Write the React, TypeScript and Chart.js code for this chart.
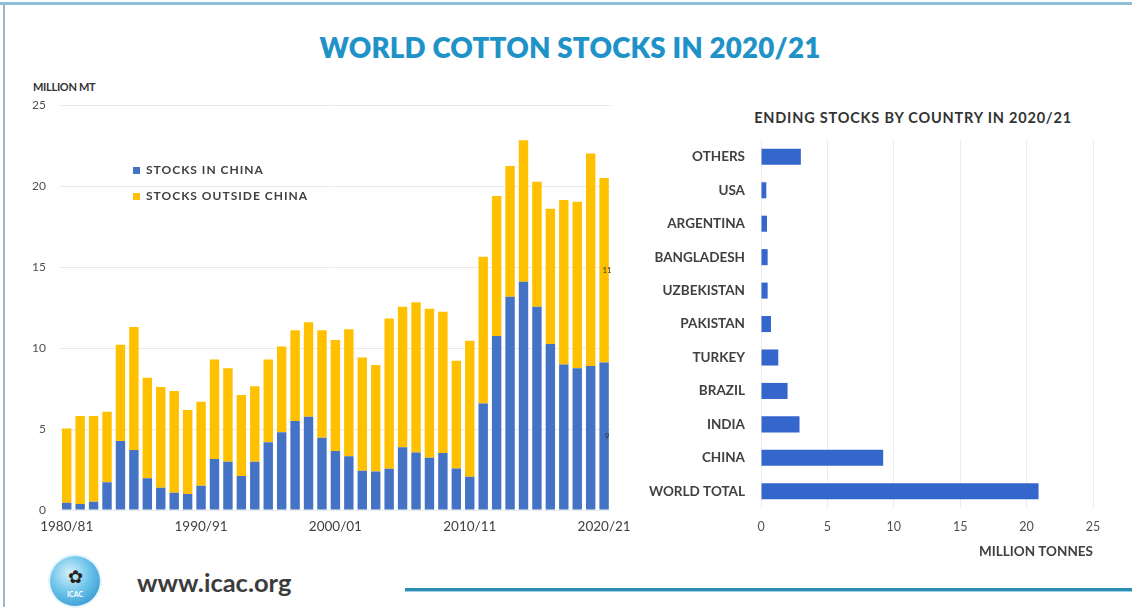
import React, { useEffect, useRef } from "react";
import { Chart, registerables } from "chart.js";

Chart.register(...registerables);

const seasons = [
  "1980/81", "1981/82", "1982/83", "1983/84", "1984/85", "1985/86", "1986/87", "1987/88", "1988/89", "1989/90",
  "1990/91", "1991/92", "1992/93", "1993/94", "1994/95", "1995/96", "1996/97", "1997/98", "1998/99", "1999/00",
  "2000/01", "2001/02", "2002/03", "2003/04", "2004/05", "2005/06", "2006/07", "2007/08", "2008/09", "2009/10",
  "2010/11", "2011/12", "2012/13", "2013/14", "2014/15", "2015/16", "2016/17", "2017/18", "2018/19", "2019/20",
  "2020/21",
];

const stocksInChina = [
  0.45, 0.37, 0.51, 1.71, 4.26, 3.7, 1.96, 1.38, 1.07, 0.99,
  1.5, 3.15, 2.98, 2.1, 2.98, 4.18, 4.8, 5.5, 5.76, 4.46,
  3.65, 3.32, 2.42, 2.37, 2.55, 3.88, 3.55, 3.23, 3.52, 2.57,
  2.06, 6.58, 10.74, 13.17, 14.1, 12.55, 10.25, 8.98, 8.76, 8.9,
  9.11,
];

const stocksOutsideChina = [
  4.59, 5.43, 5.29, 4.36, 5.94, 7.6, 6.21, 6.22, 6.28, 5.18,
  5.19, 6.15, 5.77, 5.0, 4.67, 5.12, 5.3, 5.6, 5.84, 6.64,
  6.85, 7.85, 7.0, 6.58, 9.27, 8.67, 9.28, 9.2, 8.72, 6.64,
  8.39, 9.06, 8.66, 8.08, 8.74, 7.72, 8.35, 10.16, 10.27, 13.12,
  11.4,
];

const shownSeasonTicks = ["1980/81", "1990/91", "2000/01", "2010/11", "2020/21"];

const countries = [
  "OTHERS", "USA", "ARGENTINA", "BANGLADESH", "UZBEKISTAN", "PAKISTAN",
  "TURKEY", "BRAZIL", "INDIA", "CHINA", "WORLD TOTAL",
];

const endingStocks2020 = [3.0, 0.4, 0.45, 0.5, 0.5, 0.75, 1.3, 2.0, 2.9, 9.2, 20.9];

const FONT = "Lato, 'Open Sans', sans-serif";
const BLUE = "#4472C4";
const YELLOW = "#FFC000";
const TEXT = "#404040";

const lastBarLabels = {
  id: "lastBarLabels",
  afterDatasetsDraw(chart: any) {
    const ctx = chart.ctx;
    const idx = seasons.length - 1;
    ctx.save();
    ctx.font = `8px ${FONT}`;
    ctx.fillStyle = "#333";
    ctx.textAlign = "center";
    ctx.textBaseline = "middle";
    chart.data.datasets.forEach((ds: any, di: number) => {
      const meta = chart.getDatasetMeta(di);
      const el = meta.data[idx];
      if (!el) return;
      const { x, y, base } = el.getProps(["x", "y", "base"], true);
      ctx.fillText(String(Math.round(ds.data[idx])), x + 3, (y + base) / 2);
    });
    ctx.restore();
  },
};

function StocksChart() {
  const ref = useRef<HTMLCanvasElement>(null);
  useEffect(() => {
    if (!ref.current) return;
    const chart = new Chart(ref.current, {
      type: "bar",
      data: {
        labels: seasons,
        datasets: [
          { label: "STOCKS IN CHINA", data: stocksInChina, backgroundColor: BLUE, barPercentage: 0.7, categoryPercentage: 1 },
          { label: "STOCKS OUTSIDE CHINA", data: stocksOutsideChina, backgroundColor: YELLOW, barPercentage: 0.7, categoryPercentage: 1 },
        ],
      },
      options: {
        animation: false,
        responsive: false,
        layout: { padding: { top: 0, right: 29, left: 0, bottom: 0 } },
        plugins: { legend: { display: false }, tooltip: { enabled: false } },
        scales: {
          x: {
            stacked: true,
            grid: { display: false, drawTicks: false },
            border: { display: false },
            ticks: {
              autoSkip: false,
              maxRotation: 0,
              padding: 9,
              color: TEXT,
              font: { family: FONT, size: 13.5 },
              callback: (_v: any, i: number) => (shownSeasonTicks.includes(seasons[i]) ? seasons[i] : ""),
            },
            afterFit: (s: any) => { s.height = 30; },
          },
          y: {
            stacked: true,
            min: 0,
            max: 25,
            ticks: { stepSize: 5, padding: 14, color: "#505050", font: { family: FONT, size: 12 } },
            grid: { color: "#e9e9e9", drawTicks: false },
            border: { display: false },
            afterFit: (s: any) => { s.width = 50; },
          },
        },
      },
      plugins: [lastBarLabels],
    });
    return () => chart.destroy();
  }, []);
  return <canvas ref={ref} width={630} height={456} />;
}

function CountryChart() {
  const ref = useRef<HTMLCanvasElement>(null);
  useEffect(() => {
    if (!ref.current) return;
    const chart = new Chart(ref.current, {
      type: "bar",
      data: {
        labels: countries,
        datasets: [
          { label: "ENDING STOCKS", data: endingStocks2020, backgroundColor: "#3466CC", barPercentage: 0.48, categoryPercentage: 1 },
        ],
      },
      options: {
        animation: false,
        responsive: false,
        indexAxis: "y",
        layout: { padding: { top: 0, right: 27, left: 0, bottom: 11 } },
        plugins: { legend: { display: false }, tooltip: { enabled: false } },
        scales: {
          y: {
            grid: { display: false, drawTicks: false },
            border: { display: false },
            ticks: { padding: 16, color: TEXT, font: { family: FONT, size: 13.5, weight: "bold" } },
            afterFit: (s: any) => { s.width = 131; },
          },
          x: {
            min: 0,
            max: 25,
            ticks: { stepSize: 5, padding: 11, color: "#505050", font: { family: FONT, size: 12.5 } },
            grid: { color: "#ececec", drawTicks: false },
            border: { display: false },
            title: {
              display: true,
              text: "MILLION TONNES",
              align: "end",
              color: TEXT,
              font: { family: FONT, size: 13.5, weight: "bold" },
            },
            afterFit: (s: any) => { s.height = 56; },
          },
        },
      },
    });
    return () => chart.destroy();
  }, []);
  return <canvas ref={ref} width={490} height={459} />;
}

export default function App() {
  const abs = (l: number, t: number, extra: any = {}) => ({ position: "absolute" as const, left: l, top: t, ...extra });
  return (
    <div style={{ position: "absolute", left: 0, top: 0, width: 1132, height: 616, background: "#fff", overflow: "hidden", fontFamily: FONT }}>
      {/* frame */}
      <div style={abs(0, 2, { width: 1132, height: 3, background: "#8fbfd8" })} />
      <div style={abs(3, 5, { width: 2, height: 602, background: "#9bb7c8" })} />
      <div style={abs(405, 588, { width: 727, height: 3, background: "#2b8cb6" })} />
      <div style={abs(405, 591, { width: 727, height: 1, background: "#9fd0e6" })} />

      <div style={abs(0, 31, { width: 1140, textAlign: "center", color: "#1f93c8", fontWeight: 800, fontSize: 27.7, lineHeight: "34px", letterSpacing: 0.2 })}>
        WORLD COTTON STOCKS IN 2020/21
      </div>

      <div style={abs(33, 80, { color: "#333", fontWeight: 700, fontSize: 11, lineHeight: "14px", letterSpacing: -0.3 })}>MILLION MT</div>

      <div style={abs(10, 84)}>
        <StocksChart />
      </div>

      {/* legend */}
      <div style={abs(133, 167, { width: 7, height: 7, background: BLUE })} />
      <div style={abs(146, 162, { color: TEXT, fontSize: 12, fontWeight: 700, lineHeight: "16px", letterSpacing: 1 })}>STOCKS IN CHINA</div>
      <div style={abs(133, 193, { width: 7, height: 7, background: YELLOW })} />
      <div style={abs(146, 188, { color: TEXT, fontSize: 12, fontWeight: 700, lineHeight: "16px", letterSpacing: 1 })}>STOCKS OUTSIDE CHINA</div>

      <div style={abs(700, 109, { width: 426, textAlign: "center", color: "#333", fontSize: 14.5, fontWeight: 700, lineHeight: "18px", letterSpacing: 0.8 })}>
        ENDING STOCKS BY COUNTRY IN 2020/21
      </div>

      <div style={abs(630, 116)}>
        <CountryChart />
      </div>

      {/* logo */}
      <div
        style={abs(50, 556, {
          width: 50,
          height: 50,
          borderRadius: "50%",
          background: "radial-gradient(circle at 40% 35%, #d7f1fb 0%, #6cc3ea 45%, #1f86c6 100%)",
          boxShadow: "0 0 0 2px #e6f4fb",
        })}
      >
        <div style={abs(0, 10, { width: 50, textAlign: "center", color: "#222", fontSize: 18, lineHeight: "20px" })}>✿</div>
        <div style={abs(0, 34, { width: 50, textAlign: "center", color: "#fff", fontSize: 7, fontWeight: 700, lineHeight: "8px" })}>ICAC</div>
      </div>
      <div style={abs(137, 567, { color: "#3c3c3c", fontSize: 25.5, fontWeight: 700, lineHeight: "30px" })}>www.icac.org</div>
    </div>
  );
}
